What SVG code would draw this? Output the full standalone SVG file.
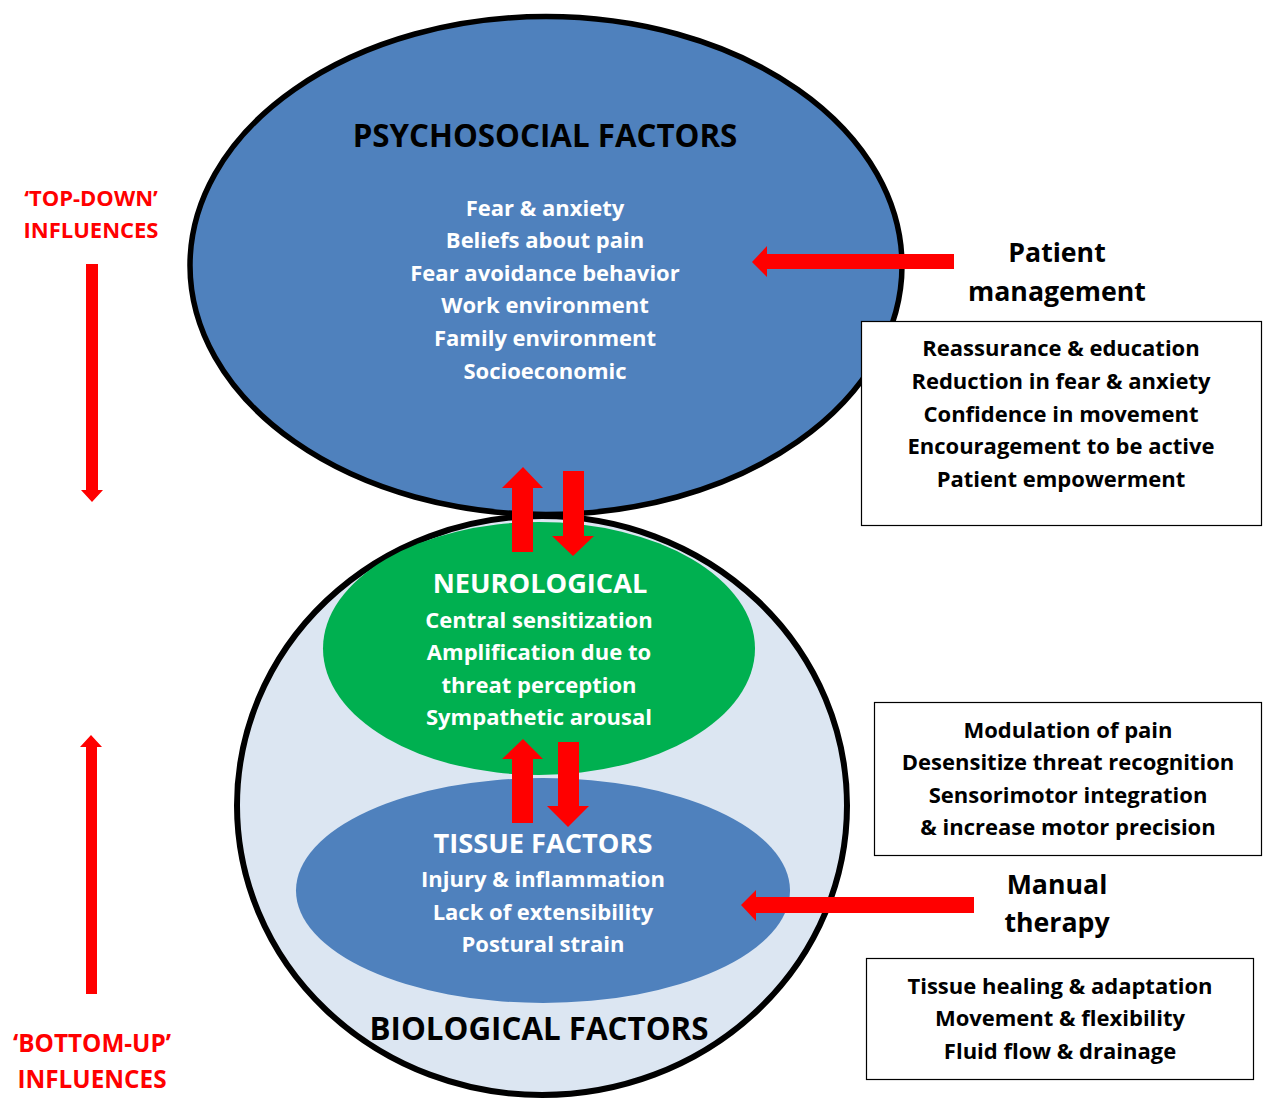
<svg xmlns="http://www.w3.org/2000/svg" width="1265" height="1099" viewBox="0 0 1265 1099">
<style>
text{font-family:"Open Sans","Liberation Sans",sans-serif;font-weight:700;text-anchor:middle}
.w{fill:#fff;font-size:22px}
.b{fill:#000;font-size:22px}
.h{font-size:31.3px;fill:#000}
.hw{font-size:27.2px;fill:#fff}
.lab{font-size:26.7px;fill:#000}
.red{fill:#ff0000;font-size:22px}
.red2{fill:#ff0000;font-size:24.3px}
.arr{fill:#ff0000}
.box{fill:#fff;stroke:#000;stroke-width:1.2}
</style>
<rect width="1265" height="1099" fill="#fff"/>
<g id="psychosocial">
<ellipse cx="546" cy="265.5" rx="356" ry="249" fill="#4f81bd" stroke="#000" stroke-width="5.5"/>
<text class="h" x="545" y="147">PSYCHOSOCIAL FACTORS</text>
<text class="w" x="545" y="216">Fear &amp; anxiety</text>
<text class="w" x="545" y="248">Beliefs about pain</text>
<text class="w" x="545" y="281">Fear avoidance behavior</text>
<text class="w" x="545" y="313">Work environment</text>
<text class="w" x="545" y="346">Family environment</text>
<text class="w" x="545" y="379">Socioeconomic</text>
</g>
<g id="biological">
<ellipse cx="542" cy="805.5" rx="305" ry="289.5" fill="#dce6f2" stroke="#000" stroke-width="6"/>
<text class="h" x="539" y="1040">BIOLOGICAL FACTORS</text>
</g>
<g id="neurological">
<ellipse cx="539" cy="648.5" rx="216" ry="126.5" fill="#00b050"/>
<text class="hw" x="540" y="593">NEUROLOGICAL</text>
<text class="w" x="539" y="628">Central sensitization</text>
<text class="w" x="539" y="660">Amplification due to</text>
<text class="w" x="539" y="693">threat perception</text>
<text class="w" x="539" y="725">Sympathetic arousal</text>
</g>
<g id="tissue">
<ellipse cx="543" cy="890.5" rx="247" ry="112.5" fill="#4f81bd"/>
<text class="hw" x="543" y="853">TISSUE FACTORS</text>
<text class="w" x="543" y="887">Injury &amp; inflammation</text>
<text class="w" x="543" y="920">Lack of extensibility</text>
<text class="w" x="543" y="952">Postural strain</text>
</g>
<g id="top-down">
<text class="red" x="91" y="206">‘TOP-DOWN’</text>
<text class="red" x="91" y="238">INFLUENCES</text>
</g>
<g id="bottom-up">
<text class="red2" x="92" y="1052">‘BOTTOM-UP’</text>
<text class="red2" x="92" y="1088">INFLUENCES</text>
</g>
<g id="patient-management">
<text class="lab" x="1057" y="262">Patient</text>
<text class="lab" x="1057" y="301">management</text>
</g>
<g id="box-patient">
<rect class="box" x="861.5" y="321.5" width="400" height="204"/>
<text class="b" x="1061" y="356">Reassurance &amp; education</text>
<text class="b" x="1061" y="389">Reduction in fear &amp; anxiety</text>
<text class="b" x="1061" y="422">Confidence in movement</text>
<text class="b" x="1061" y="454">Encouragement to be active</text>
<text class="b" x="1061" y="487">Patient empowerment</text>
</g>
<g id="box-neuro">
<rect class="box" x="874.5" y="702.5" width="387" height="153"/>
<text class="b" x="1068" y="738">Modulation of pain</text>
<text class="b" x="1068" y="770">Desensitize threat recognition</text>
<text class="b" x="1068" y="803">Sensorimotor integration</text>
<text class="b" x="1068" y="835">&amp; increase motor precision</text>
</g>
<g id="manual-therapy">
<text class="lab" x="1057" y="894">Manual</text>
<text class="lab" x="1057" y="932">therapy</text>
</g>
<g id="box-tissue">
<rect class="box" x="866.5" y="958.5" width="387" height="121"/>
<text class="b" x="1060" y="994">Tissue healing &amp; adaptation</text>
<text class="b" x="1060" y="1026">Movement &amp; flexibility</text>
<text class="b" x="1060" y="1059">Fluid flow &amp; drainage</text>
</g>
<g id="connectors">
<polygon class="arr" points="86,264 98,264 98,490 103,490 92,502 81,490 86,490"/>
<polygon class="arr" points="86,994 97,994 97,747 102,747 91,735 80,747 86,747"/>
<polygon class="arr" points="954,254 954,269 767,269 767,277 752,262 767,246 767,254"/>
<polygon class="arr" points="974,897 974,913 756,913 756,921 741,905 756,890 756,897"/>
<polygon class="arr" points="512,552 533,552 533,488 543,488 523,467 502,488 512,488"/>
<polygon class="arr" points="563,471 584,471 584,536 594,536 573,556 552,536 563,536"/>
<polygon class="arr" points="512,823 533,823 533,759 543,759 523,739 502,759 512,759"/>
<polygon class="arr" points="558,742 579,742 579,806 589,806 568,827 547,806 558,806"/>
</g>
</svg>
